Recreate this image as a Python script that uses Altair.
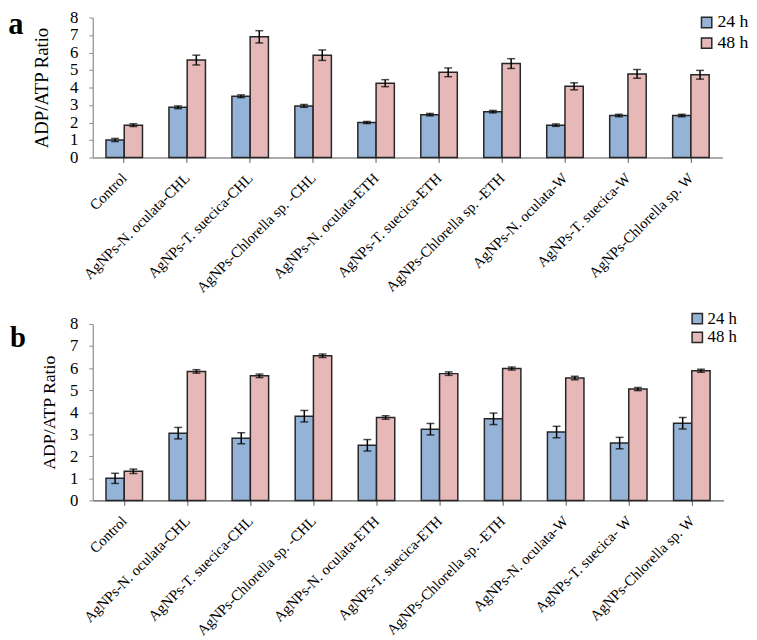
import altair as alt
import pandas as pd

FONT = "Liberation Serif"
BLUE = "#95B3D7"
PINK = "#E6B9B8"
EDGE = "#262626"
TIMES = ["24 h", "48 h"]

cats_a = ["Control", "AgNPs-N. oculata-CHL", "AgNPs-T. suecica-CHL", "AgNPs-Chlorella sp. -CHL",
          "AgNPs-N. oculata-ETH", "AgNPs-T. suecica-ETH", "AgNPs-Chlorella sp. -ETH",
          "AgNPs-N. oculata-W", "AgNPs-T. suecica-W", "AgNPs-Chlorella sp. W"]
cats_b = ["Control", "AgNPs-N. oculata-CHL", "AgNPs-T. suecica-CHL", "AgNPs-Chlorella sp. -CHL",
          "AgNPs-N. oculata-ETH", "AgNPs-T. suecica-ETH", "AgNPs-Chlorella sp. -ETH",
          "AgNPs-N. oculata-W", "AgNPs-T. suecica- W", "AgNPs-Chlorella sp. W"]

a_24 = [1.0, 2.87, 3.5, 2.95, 2.0, 2.45, 2.62, 1.85, 2.4, 2.4]
a_24_err = [0.09, 0.08, 0.08, 0.08, 0.06, 0.07, 0.07, 0.07, 0.07, 0.07]
a_48 = [1.85, 5.57, 6.9, 5.85, 4.25, 4.87, 5.37, 4.07, 4.78, 4.73]
a_48_err = [0.08, 0.28, 0.35, 0.3, 0.2, 0.25, 0.28, 0.2, 0.25, 0.25]

b_24 = [1.0, 3.05, 2.82, 3.82, 2.5, 3.23, 3.7, 3.1, 2.6, 3.5]
b_24_err = [0.23, 0.26, 0.25, 0.26, 0.26, 0.26, 0.26, 0.26, 0.26, 0.26]
b_48 = [1.32, 5.85, 5.65, 6.56, 3.76, 5.75, 5.98, 5.55, 5.05, 5.88]
b_48_err = [0.1, 0.08, 0.08, 0.08, 0.08, 0.08, 0.07, 0.08, 0.07, 0.07]

y_ticks = [0, 1, 2, 3, 4, 5, 6, 7, 8]


def make_df(cats, v24, e24, v48, e48):
    rows = []
    for t, vals, errs in ((TIMES[0], v24, e24), (TIMES[1], v48, e48)):
        for c, v, e in zip(cats, vals, errs):
            rows.append({"cat": c, "time": t, "v": v, "lo": v - e, "hi": v + e})
    return pd.DataFrame(rows)


def panel(df, cats, w, h, title_size, title_pad, tag, tag_x, tag_y, tag_size,
          leg_x, leg_y, leg_size, leg_row_pad):
    x = alt.X("cat:N", sort=cats,
              scale=alt.Scale(paddingInner=0.42, paddingOuter=0.21),
              axis=alt.Axis(title=None, labelAngle=-45, labelAlign="right",
                            labelBaseline="middle", labelFont=FONT, labelFontSize=15,
                            labelColor="black", domainColor="#595959", domainWidth=1.2,
                            tickColor="#595959", tickSize=5, labelPadding=13,
                            labelLimit=400, labelOverlap=False))
    xo = alt.XOffset("time:N", sort=TIMES, scale=alt.Scale(paddingInner=0, paddingOuter=0))
    yaxis = alt.Axis(values=y_ticks, title="ADP/ATP Ratio", titleFont=FONT,
                     titleFontSize=title_size, titleFontWeight="normal", titleColor="black",
                     titlePadding=title_pad, labelFont=FONT, labelFontSize=17,
                     labelColor="black", labelPadding=11, grid=False,
                     domainColor="#8c8c8c", domainWidth=1.2, tickColor="#8c8c8c", tickSize=4)
    yscale = alt.Scale(domain=[0, 8], nice=False)

    bars = alt.Chart(df).mark_bar(stroke=EDGE, strokeWidth=1.5).encode(
        x=x, xOffset=xo,
        y=alt.Y("v:Q", scale=yscale, axis=yaxis),
        color=alt.Color("time:N", scale=alt.Scale(domain=TIMES, range=[BLUE, PINK]),
                        legend=alt.Legend(title=None, orient="none", legendX=leg_x, legendY=leg_y,
                                          symbolType="square", symbolSize=110,
                                          symbolStrokeColor=EDGE, symbolStrokeWidth=1.5,
                                          labelFont=FONT, labelFontSize=leg_size,
                                          labelColor="black", labelOffset=2,
                                          rowPadding=leg_row_pad, padding=0)),
    )
    rule = alt.Chart(df).mark_rule(color="black", strokeWidth=1.5).encode(
        x=x, xOffset=xo,
        y=alt.Y("lo:Q", scale=yscale, axis=yaxis), y2="hi:Q")
    cap_lo = alt.Chart(df).mark_tick(color="black", thickness=1.5, size=8, orient="horizontal").encode(
        x=x, xOffset=xo, y=alt.Y("lo:Q", scale=yscale, axis=yaxis))
    cap_hi = alt.Chart(df).mark_tick(color="black", thickness=1.5, size=8, orient="horizontal").encode(
        x=x, xOffset=xo, y=alt.Y("hi:Q", scale=yscale, axis=yaxis))
    label = alt.Chart(pd.DataFrame({"t": [tag]})).mark_text(
        font=FONT, fontSize=tag_size, fontWeight="bold", color="black",
        align="center", baseline="alphabetic").encode(
        text="t:N", x=alt.value(tag_x), y=alt.value(tag_y))
    return alt.layer(bars, rule, cap_lo, cap_hi, label).properties(width=w, height=h)


df_a = make_df(cats_a, a_24, a_24_err, a_48, a_48_err)
df_b = make_df(cats_b, b_24, b_24_err, b_48, b_48_err)

pa = panel(df_a, cats_a, 639, 142, 19, 18, "a", -78, 17, 31, 614, -4, 18, 3)
pb = panel(df_b, cats_b, 640, 179, 18, 11, "b", -76, 23, 29, 605, -14, 17, 1)

chart = (alt.vconcat(pa, pb, spacing=15)
         .resolve_legend(color="independent")
         .properties(padding={"top": -4, "left": 0, "right": 0, "bottom": 0})
         .configure_view(stroke=None))
chart.save("out.html", embed_options={"renderer": "svg", "actions": False})
